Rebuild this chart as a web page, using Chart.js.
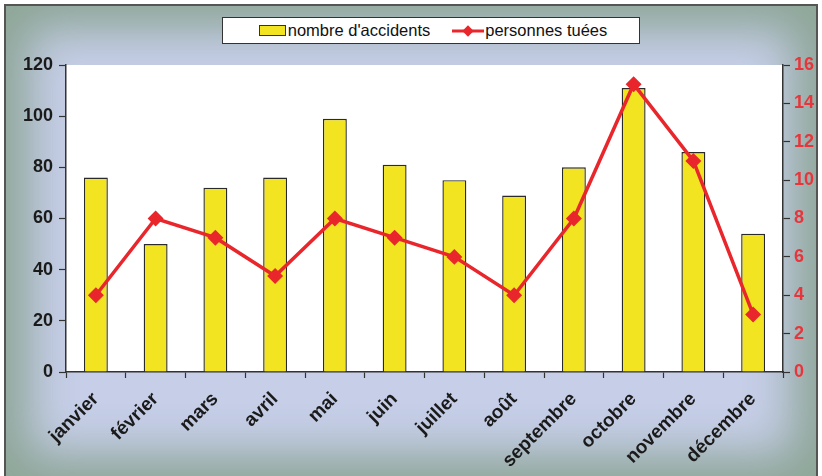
<!DOCTYPE html>
<html><head><meta charset="utf-8">
<script src="https://cdn.jsdelivr.net/npm/chart.js@4/dist/chart.umd.min.js"></script>
<style>
html,body{margin:0;padding:0;width:822px;height:476px;overflow:hidden;background:#fff;}
#frame{position:absolute;left:4px;top:4px;width:814px;height:474px;box-sizing:border-box;border:2px solid #555;border-bottom:none;
 background:#c6cee8;box-shadow:inset 0 0 45px 24px #8ea698;}
#wrap{position:absolute;left:0;top:0;width:822px;height:476px;}
#legend{position:absolute;left:222px;top:17px;width:418px;height:27px;box-sizing:border-box;border:1.5px solid #333;background:#fff;
 font-family:"Liberation Sans Narrow","Arial Narrow","Liberation Sans",Arial,sans-serif;font-size:16.5px;color:#111;display:flex;align-items:center;justify-content:center;gap:22px;padding-left:4px;}
.item{display:flex;align-items:center;}
.sw{display:inline-block;width:25px;height:9px;background:#f2e421;border:1.5px solid #333;margin-right:2px;}
</style></head>
<body>
<div id="frame"></div>
<div id="wrap"><canvas id="c" width="822" height="476"></canvas></div>
<div id="legend">
 <span class="item"><span class="sw"></span>nombre d'accidents</span>
 <span class="item"><svg width="32" height="12" style="margin-right:1px"><line x1="0" y1="6" x2="32" y2="6" stroke="#e8262b" stroke-width="3"/><rect x="12" y="2" width="8" height="8" fill="#e8262b" transform="rotate(45 16 6)"/></svg>personnes tuées</span>
</div>
<script>
const months = ["janvier","février","mars","avril","mai","juin","juillet","août","septembre","octobre","novembre","décembre"];
const accidents = [76,50,72,76,99,81,75,69,80,111,86,54];
const tues = [4,8,7,5,8,7,6,4,8,15,11,3];
const leftTicks = [0,20,40,60,80,100,120];
const rightTicks = [0,2,4,6,8,10,12,14,16];

const bgPlugin = {
  id:'bg',
  beforeDraw(chart){
    const {ctx, chartArea:a} = chart;
    ctx.save();
    ctx.fillStyle = '#ffffff';
    ctx.fillRect(a.left, a.top, a.right-a.left, a.bottom-a.top);
    ctx.restore();
  }
};

new Chart(document.getElementById('c'), {
  type:'bar',
  data:{
    labels: months,
    datasets:[
      {type:'line', label:'personnes tuées', data:tues, yAxisID:'y1', borderColor:'#e8262b', backgroundColor:'#e8262b',
       borderWidth:3.5, pointStyle:'rectRot', pointRadius:5.5, pointHoverRadius:5.5, tension:0, order:0},
      {type:'bar', label:"nombre d'accidents", data:accidents, yAxisID:'y', backgroundColor:'#f2e421', borderColor:'#2a2a2a',
       borderWidth:1.4, categoryPercentage:1, barPercentage:0.4, order:1}
    ]
  },
  options:{
    responsive:false, animation:false,
    layout:{padding:{top:65, left:0, right:0, bottom:0}},
    plugins:{legend:{display:false}, tooltip:{enabled:false}},
    scales:{
      x:{
        offset:true,
        grid:{offset:true, drawOnChartArea:false, color:'#333', tickLength:6, tickWidth:1.2},
        border:{color:'#333', width:1.5},
        ticks:{minRotation:45, maxRotation:45, color:'#1a1a1a', padding:10, autoSkip:false,
          font:{family:'"Liberation Sans",Arial,sans-serif', size:19, weight:'bold'}},
        afterFit(s){ s.height = 104; }
      },
      y:{
        position:'left', min:0, max:120,
        afterBuildTicks(s){ s.ticks = leftTicks.map(v=>({value:v})); },
        grid:{drawOnChartArea:false, color:'#333', tickLength:7, tickWidth:1.2},
        border:{color:'#333', width:1.5},
        ticks:{color:'#1a1a1a', padding:6, font:{family:'"Liberation Sans",Arial,sans-serif', size:18, weight:'bold'}},
        afterFit(s){ s.width = 66; }
      },
      y1:{
        position:'right', min:0, max:16,
        afterBuildTicks(s){ s.ticks = rightTicks.map(v=>({value:v})); },
        grid:{drawOnChartArea:false, color:'#333', tickLength:7, tickWidth:1.2},
        border:{color:'#333', width:1.5},
        ticks:{color:'#e8343a', padding:4, font:{family:'"Liberation Sans",Arial,sans-serif', size:18, weight:'bold'}},
        afterFit(s){ s.width = 39; }
      }
    }
  },
  plugins:[bgPlugin]
});
</script>
</body></html>
